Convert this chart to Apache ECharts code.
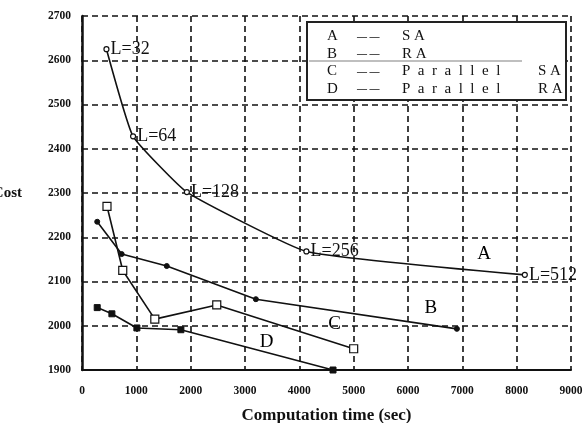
<!DOCTYPE html>
<html>
<head>
<meta charset="utf-8">
<script src="https://cdn.jsdelivr.net/npm/echarts@6/dist/echarts.min.js"></script>
<style>
  html, body { margin: 0; padding: 0; background: #fff; }
  #chart { width: 583px; height: 423px; }
</style>
</head>
<body>
<div id="chart"></div>
<script>
// Cost vs. computation time for four annealing variants
var seriesA = [[450, 2625], [940, 2428], [1930, 2302], [4130, 2168], [8150, 2115]]; // SA
var labelsA = ['L=32', 'L=64', 'L=128', 'L=256', 'L=512'];
var seriesB = [[280, 2235], [730, 2162], [1560, 2135], [3200, 2060], [6900, 1993]]; // RA
var seriesC = [[460, 2270], [750, 2125], [1340, 2015], [2480, 2047], [5000, 1948]]; // Parallel SA
var seriesD = [[280, 2041], [550, 2027], [1010, 1995], [1820, 1991], [4620, 1900]]; // Parallel RA
var curveTags = [[7400, 2162, 'A'], [6420, 2040, 'B'], [4650, 2003, 'C'], [3400, 1963, 'D']];
// legend rows: key letter, first word, second word
var legendRows = [['A', '', 'S A'], ['B', '', 'R A'], ['C', 'P\u2002a\u2002r\u2002a\u2002l\u2002l\u2002e\u2002l', 'S A'], ['D', 'P\u2002a\u2002r\u2002a\u2002l\u2002l\u2002e\u2002l', 'R A']];

var serif = 'Liberation Serif';
var chart = echarts.init(document.getElementById('chart'));

var lineBase = { type: 'line', lineStyle: { color: '#111', width: 1.6 }, z: 5 };

// legend panel drawn on top of the grid lines
var LZ = 100;
var legendChildren = [{
  type: 'rect', z: LZ, shape: { x: 0, y: 0, width: 259, height: 78 },
  style: { fill: '#fff', stroke: '#222', lineWidth: 2 }
}, {
  type: 'line', z: LZ, shape: { x1: 2, y1: 39, x2: 215, y2: 39 },
  style: { stroke: '#aaa', lineWidth: 1.5 }
}];
legendRows.forEach(function (r, i) {
  var y = 7 + i * 17.5;
  var f = '15px ' + serif;
  legendChildren.push({ type: 'text', z: LZ + 1, x: 20, y: y, style: { text: r[0], font: f, fill: '#111' } });
  legendChildren.push({ type: 'text', z: LZ + 1, x: 50, y: y + 3, style: { text: '— —', font: 'bold 10px ' + serif, fill: '#111' } });
  if (r[1]) {
    legendChildren.push({ type: 'text', z: LZ + 1, x: 95, y: y, style: { text: r[1], font: f, fill: '#111' } });
    legendChildren.push({ type: 'text', z: LZ + 1, x: 231, y: y, style: { text: r[2], font: f, fill: '#111' } });
  } else {
    legendChildren.push({ type: 'text', z: LZ + 1, x: 95, y: y, style: { text: r[2], font: f, fill: '#111' } });
  }
});

function plain(v) { return String(v); }

chart.setOption({
  animation: false,
  backgroundColor: '#fff',
  grid: { left: 82, right: 12, top: 16, bottom: 53, containLabel: false, outerBoundsMode: 'none' },
  xAxis: {
    type: 'value', min: 0, max: 9000, interval: 1000,
    name: 'Computation time (sec)', nameLocation: 'middle', nameGap: 37,
    nameTextStyle: { fontFamily: serif, fontSize: 17, fontWeight: 'bold', color: '#111' },
    axisLine: { show: true, lineStyle: { color: '#111', width: 2 } },
    axisTick: { show: false },
    axisLabel: { fontFamily: serif, fontSize: 11.5, fontWeight: 'bold', color: '#111', margin: 15, formatter: plain },
    splitLine: { show: true, lineStyle: { color: '#111', width: 1.6, type: [6, 4] } }
  },
  yAxis: {
    type: 'value', min: 1900, max: 2700, interval: 100,
    name: 'Cost', nameLocation: 'middle', nameGap: 60, nameRotate: 0,
    nameTextStyle: { fontFamily: serif, fontSize: 15, fontWeight: 'bold', color: '#111' },
    axisLine: { show: true, lineStyle: { color: '#111', width: 2.5 } },
    axisTick: { show: false },
    axisLabel: { fontFamily: serif, fontSize: 11.5, fontWeight: 'bold', color: '#111', margin: 11, formatter: plain },
    splitLine: { show: true, lineStyle: { color: '#111', width: 1.6, type: [6, 4] } }
  },
  series: [
    Object.assign({}, lineBase, {
      name: 'SA', data: seriesA, smooth: 0.12,
      symbol: 'circle', symbolSize: 5,
      itemStyle: { color: '#fff', borderColor: '#111', borderWidth: 1.2 },
      label: {
        show: true, position: 'right', distance: 1,
        fontFamily: serif, fontSize: 18, color: '#111',
        formatter: function (p) { return labelsA[p.dataIndex]; }
      }
    }),
    Object.assign({}, lineBase, {
      name: 'RA', data: seriesB,
      symbol: 'circle', symbolSize: 5,
      itemStyle: { color: '#111', borderColor: '#111' }
    }),
    Object.assign({}, lineBase, {
      name: 'Parallel SA', data: seriesC,
      symbol: 'rect', symbolSize: 8,
      itemStyle: { color: '#fff', borderColor: '#111', borderWidth: 1.2 }
    }),
    Object.assign({}, lineBase, {
      name: 'Parallel RA', data: seriesD,
      symbol: 'rect', symbolSize: 6,
      itemStyle: { color: '#111', borderColor: '#111' }
    }),
    {
      type: 'scatter', data: curveTags, symbolSize: 1, z: 6,
      itemStyle: { color: 'rgba(0,0,0,0)', opacity: 1 },
      label: {
        show: true, position: 'inside', opacity: 1,
        fontFamily: serif, fontSize: 19, color: '#000',
        formatter: function (p) { return p.data[2]; }
      }
    }
  ],
  graphic: [{ type: 'group', left: 306, top: 21, z: LZ, children: legendChildren }]
});
</script>
</body>
</html>
